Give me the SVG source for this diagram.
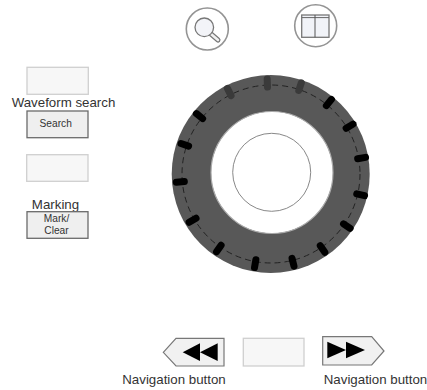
<svg xmlns="http://www.w3.org/2000/svg" width="427" height="390" viewBox="0 0 427 390">
<style>
text{font-family:"Liberation Sans",Arial,sans-serif;fill:#333;text-anchor:middle}
.l{font-size:13.3px}
.s{font-size:10.2px}
.blank{fill:#f7f7f7;stroke:#cfcfcf;stroke-width:1.3}
.btn{fill:#efefef;stroke:#6a6a6a;stroke-width:1.3}
.ring{fill:none;stroke:#949494;stroke-width:1.6}
.k{stroke:#000;stroke-width:7;stroke-linecap:round}
.g{stroke:#3a3a3a;stroke-width:7;stroke-linecap:round}
</style>
<g id="icon-search">
<circle class="ring" cx="207.3" cy="29" r="21"/>
<line x1="211" y1="34" x2="218" y2="40" stroke="#777" stroke-width="5" stroke-linecap="round"/>
<line x1="211" y1="34" x2="218" y2="40" stroke="#f0f0f0" stroke-width="2.6" stroke-linecap="round"/>
<circle cx="204.3" cy="27.3" r="9.3" fill="#f3f4f8" stroke="#777" stroke-width="1.3"/>
</g>
<g id="icon-split">
<circle class="ring" cx="315.7" cy="25.7" r="21"/>
<rect x="301.7" y="15" width="27.3" height="22.3" fill="#f1f3f8" stroke="#777" stroke-width="1.3"/>
<line x1="301.7" y1="17.6" x2="329" y2="17.6" stroke="#666" stroke-width="1"/>
<line x1="315" y1="15" x2="315" y2="37.3" stroke="#555" stroke-width="1"/>
</g>
<g id="wheel">
<circle cx="270.7" cy="174" r="99" fill="#585858"/>
<circle cx="271" cy="174" r="89" fill="none" stroke="#222" stroke-width="1" stroke-dasharray="6 4"/>
<circle cx="272" cy="172.5" r="61" fill="#fff" stroke="#aaa" stroke-width="1.2"/>
<circle cx="271.7" cy="172.3" r="39" fill="#fff" stroke="#888" stroke-width="1"/>
<g class="g">
<line x1="271" y1="79" x2="271" y2="87" transform="rotate(-2.3 271 174)"/>
<line x1="271" y1="78" x2="271" y2="86" transform="rotate(-27 271 174)"/>
<line x1="271" y1="78" x2="271" y2="86" transform="rotate(18.4 271 174)"/>
</g>
<g class="k">
<line x1="271" y1="78" x2="271" y2="86" transform="rotate(39 271 174)"/>
<line x1="271" y1="78" x2="271" y2="86" transform="rotate(58.7 271 174)"/>
<line x1="271" y1="78" x2="271" y2="86" transform="rotate(-51 271 174)"/>
<line x1="271" y1="79" x2="271" y2="87" transform="rotate(-71.3 271 174)"/>
<line x1="271" y1="78" x2="271" y2="86" transform="rotate(80 271 174)"/>
<line x1="271" y1="79" x2="271" y2="87" transform="rotate(-95 271 174)"/>
<line x1="271" y1="78" x2="271" y2="86" transform="rotate(103 271 174)"/>
<line x1="271" y1="79" x2="271" y2="87" transform="rotate(-120.5 271 174)"/>
<line x1="271" y1="78" x2="271" y2="86" transform="rotate(124.5 271 174)"/>
<line x1="271" y1="79" x2="271" y2="87" transform="rotate(-145 271 174)"/>
<line x1="271" y1="79" x2="271" y2="87" transform="rotate(145.5 271 174)"/>
<line x1="271" y1="79" x2="271" y2="87" transform="rotate(-170 271 174)"/>
<line x1="271" y1="79" x2="271" y2="87" transform="rotate(166 271 174)"/>
</g>
</g>
<g id="search-group">
<rect class="blank" x="27" y="67.3" width="61.3" height="27"/>
<text class="l" x="63.5" y="107">Waveform search</text>
<rect class="btn" x="27" y="111" width="61" height="26.7"/>
<text class="s" x="55.7" y="126.7">Search</text>
</g>
<g id="marking-group">
<rect class="blank" x="26.7" y="154.7" width="61.3" height="26.6"/>
<text class="l" x="55.5" y="209">Marking</text>
<rect class="btn" x="27" y="211.7" width="61" height="26.6"/>
<text class="s" x="56.5" y="222.3">Mark/</text>
<text class="s" x="56.5" y="234.3">Clear</text>
</g>
<g id="nav-left">
<polygon points="163.3,352.3 176,338.3 224,338.3 224,366 176,366" fill="#f1f1f1" stroke="#777" stroke-width="1.2"/>
<polygon points="182.7,352.3 200,343.3 200,361" fill="#000"/>
<polygon points="200,352.3 217.7,343.3 217.7,361" fill="#000"/>
<text class="l" x="174" y="384">Navigation button</text>
</g>
<g id="nav-center">
<rect class="blank" x="243.3" y="338.3" width="60.7" height="27.7"/>
</g>
<g id="nav-right">
<polygon points="322.7,336.7 371.7,336.7 384,351 371.7,365 322.7,365" fill="#f1f1f1" stroke="#777" stroke-width="1.2"/>
<polygon points="327.3,341.7 327.3,358.3 346,350" fill="#000"/>
<polygon points="346,341.7 346,358.3 365,350" fill="#000"/>
<text class="l" x="375.5" y="384">Navigation button</text>
</g>
</svg>
